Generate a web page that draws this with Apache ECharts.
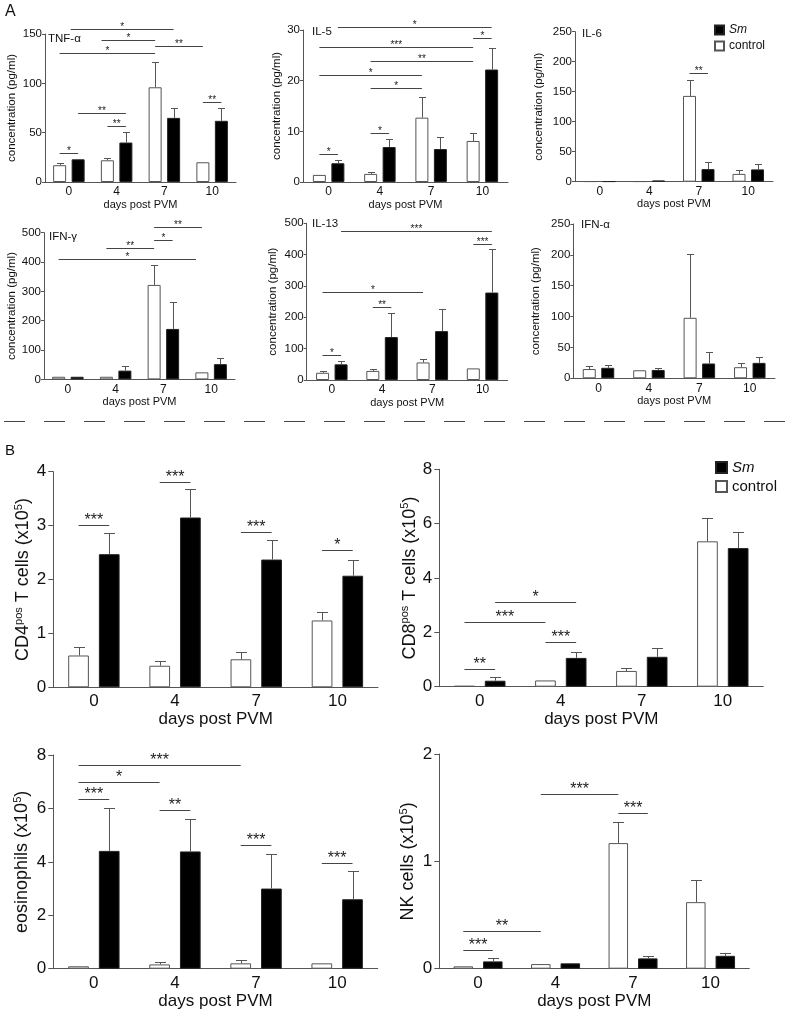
<!DOCTYPE html>
<html lang="en">
<head>
<meta charset="UTF-8">
<title>PVM cytokines and cells</title>
<script src="https://cdn.jsdelivr.net/npm/echarts@6/dist/echarts.min.js"></script>
<style>html,body{margin:0;padding:0;background:#fff;}</style>
</head>
<body>
<div id="chartmain" style="width:789px;height:1012px;"></div>
<script type="text/javascript">
var days = ['0', '4', '7', '10'];

// A - cytokines (pg/ml): mean and SEM, control vs Sm
var tnfCtrl = [17, 22, 96, 20],      tnfCtrlSem = [2, 2, 26, 1.5];
var tnfSm = [23, 40, 65, 62],        tnfSmSem = [1, 11, 10, 13];
var il5Ctrl = [1.4, 1.6, 12.7, 8.1], il5CtrlSem = [0.2, 0.4, 4.1, 1.6];
var il5Sm = [3.7, 6.9, 6.5, 22.2],   il5SmSem = [0.6, 1.5, 2.3, 4.3];
var il6Ctrl = [0.5, 0.5, 143, 13],   il6CtrlSem = [0, 0, 27, 6];
var il6Sm = [0.5, 2, 21, 20.5],      il6SmSem = [0, 0.5, 12, 9];
var ifngCtrl = [9, 9, 322, 24],      ifngCtrlSem = [1, 1, 68, 5];
var ifngSm = [9, 30, 172, 52],       ifngSmSem = [1, 16, 91, 20];
var il13Ctrl = [23, 29, 56, 37],     il13CtrlSem = [7, 5, 10, 3];
var il13Sm = [50, 137, 156, 279],    il13SmSem = [11, 76, 71, 138];
var ifnaCtrl = [15, 13, 98, 18],     ifnaCtrlSem = [5.5, 1, 103, 6];
var ifnaSm = [17, 13.5, 24, 25],     ifnaSmSem = [5, 3.5, 19, 9];

// B - cell counts (x10^5)
var cd4Ctrl = [0.59, 0.40, 0.52, 1.24], cd4CtrlSem = [0.16, 0.08, 0.14, 0.15];
var cd4Sm = [2.47, 3.15, 2.37, 2.07],   cd4SmSem = [0.39, 0.52, 0.36, 0.30];
var cd8Ctrl = [0.03, 0.23, 0.58, 5.35], cd8CtrlSem = [0.02, 0.07, 0.09, 0.85];
var cd8Sm = [0.22, 1.06, 1.10, 5.10],   cd8SmSem = [0.12, 0.23, 0.31, 0.60];
var eosCtrl = [0.09, 0.16, 0.20, 0.20], eosCtrlSem = [0, 0.09, 0.11, 0.04];
var eosSm = [4.41, 4.39, 3.00, 2.60],   eosSmSem = [1.59, 1.21, 1.30, 1.05];
var nkCtrl = [0.022, 0.043, 1.17, 0.62], nkCtrlSem = [0, 0.007, 0.20, 0.21];
var nkSm = [0.068, 0.05, 0.096, 0.12],   nkSmSem = [0.028, 0.006, 0.024, 0.023];

// significance brackets: [from bar, to bar, height, stars]
// bars: 0=c0 1=Sm0 2=c4 3=Sm4 4=c7 5=Sm7 6=c10 7=Sm10
var tnfSig = [[0.6, 5, 155, '*'], [1.8, 4, 144, '*'], [4, 6, 138, '**'], [0, 4, 131, '*'],
              [1, 3, 70, '**'], [2, 3, 57, '**'], [6, 7, 81, '**'], [0, 1, 29, '*']];
var il5Sig = [[1, 7, 30.6, '*'], [6, 7, 28.5, '*'], [0, 6, 26.7, '***'], [2, 6, 23.9, '**'],
              [0, 4, 21.1, '*'], [2, 4, 18.5, '*'], [2, 3, 9.6, '*'], [0, 1, 5.5, '*']];
var il6Sig = [[4, 5, 182, '**']];
var ifngSig = [[4, 6, 518, '**'], [4, 5, 475, '*'], [2, 4, 449, '**'], [0, 5.8, 409, '*']];
var il13Sig = [[1, 7, 477, '***'], [6, 7, 433, '***'], [0, 4, 282, '*'], [2, 3, 234, '**'], [0, 1, 80, '*']];
var ifnaSig = [];
var cd4Sig = [[0, 1, 3.02, '***'], [2, 3, 3.81, '***'], [4, 5, 2.89, '***'], [6, 7, 2.54, '*']];
var cd8Sig = [[1, 3, 3.13, '*'], [0, 2, 2.37, '***'], [2, 3, 1.66, '***'], [0, 1, 0.65, '**']];
var eosSig = [[0, 4, 7.63, '***'], [0, 2, 6.99, '*'], [0, 1, 6.34, '***'], [2, 3, 5.94, '**'],
              [4, 5, 4.63, '***'], [6, 7, 3.97, '***']];
var nkSig = [[2, 4, 1.63, '***'], [4, 5, 1.45, '***'], [0, 2, 0.354, '**'], [0, 1, 0.177, '***']];

var conc = 'concentration (pg/ml)';
var panels = [
    {t: 'TNF-α', tp: [48, 33], c: tnfCtrl, ce: tnfCtrlSem, s: tnfSm, se: tnfSmSem, sig: tnfSig, max: 150, step: 50, yn: conc, box: [45, 34, 191, 148], gap: 27},
    {t: 'IL-5', tp: [312, 26], c: il5Ctrl, ce: il5CtrlSem, s: il5Sm, se: il5SmSem, sig: il5Sig, max: 30, step: 10, yn: conc, box: [303, 30, 205, 152], gap: 20},
    {t: 'IL-6', tp: [582, 28], c: il6Ctrl, ce: il6CtrlSem, s: il6Sm, se: il6SmSem, sig: il6Sig, max: 250, step: 50, yn: conc, box: [575, 31.7, 198, 150], gap: 30},
    {t: 'IFN-γ', tp: [49, 231], c: ifngCtrl, ce: ifngCtrlSem, s: ifngSm, se: ifngSmSem, sig: ifngSig, max: 500, step: 100, yn: conc, box: [44, 232.7, 191, 146.7], gap: 26},
    {t: 'IL-13', tp: [312, 218], c: il13Ctrl, ce: il13CtrlSem, s: il13Sm, se: il13SmSem, sig: il13Sig, max: 500, step: 100, yn: conc, box: [306.7, 223.3, 201, 156.7], gap: 28},
    {t: 'IFN-α', tp: [581, 219], c: ifnaCtrl, ce: ifnaCtrlSem, s: ifnaSm, se: ifnaSmSem, sig: ifnaSig, max: 250, step: 50, yn: conc, box: [573.3, 224, 201.7, 154.3], gap: 31},
    {big: true, c: cd4Ctrl, ce: cd4CtrlSem, s: cd4Sm, se: cd4SmSem, sig: cd4Sig, max: 4, step: 1, yn: 'CD4{sup|pos} T cells (x10{sup|5})', box: [53.3, 471.7, 324.7, 215.6], gap: 20},
    {big: true, c: cd8Ctrl, ce: cd8CtrlSem, s: cd8Sm, se: cd8SmSem, sig: cd8Sig, max: 8, step: 2, yn: 'CD8{sup|pos} T cells (x10{sup|5})', box: [439.3, 469.3, 324, 217.4], gap: 19},
    {big: true, c: eosCtrl, ce: eosCtrlSem, s: eosSm, se: eosSmSem, sig: eosSig, max: 8, step: 2, yn: 'eosinophils (x10{sup|5})', box: [53.3, 755, 324.4, 213.7], gap: 21},
    {big: true, bw: 19.5, c: nkCtrl, ce: nkCtrlSem, s: nkSm, se: nkSmSem, sig: nkSig, max: 2, step: 1, yn: 'NK cells (x10{sup|5})', box: [439.3, 754, 310, 214.7], gap: 21}
];

var font = 'Liberation Sans';
var lineCol = '#555';

function barX(api, k, off) {
    var cx = function (b) {
        return api.coord([Math.floor(b / 2), 0])[0] + (b % 2 ? off : -off);
    };
    var lo = Math.floor(k), hi = Math.ceil(k);
    if (lo === hi) return cx(lo);
    return cx(lo) + (cx(hi) - cx(lo)) * (k - lo);
}

var grids = [], xAxes = [], yAxes = [], series = [], titles = [];

panels.forEach(function (p, i) {
    var big = !!p.big;
    var bw = p.bw || (big ? 20.7 : 13);
    var gapPx = big ? 10 : 5.5;
    var off = (bw + gapPx) / 2;
    var cap = big ? 5.5 : 3.5;
    var fs = big ? 17 : 12;

    grids.push({left: p.box[0], top: p.box[1], width: p.box[2], height: p.box[3], outerBoundsMode: 'none'});
    xAxes.push({
        type: 'category', gridIndex: i, data: days,
        axisTick: {show: false},
        axisLine: {lineStyle: {color: lineCol, width: 1}},
        axisLabel: {fontSize: fs, color: '#111', margin: big ? 6 : 4, fontFamily: font},
        name: 'days post PVM', nameLocation: 'middle', nameGap: big ? 21 : 17,
        nameTextStyle: {fontSize: big ? 17 : 11, color: '#111', fontFamily: font}
    });
    yAxes.push({
        type: 'value', gridIndex: i, min: 0, max: p.max, interval: p.step,
        splitLine: {show: false},
        axisLine: {show: true, lineStyle: {color: lineCol, width: 1}},
        axisTick: {show: true, length: big ? 5 : 3, lineStyle: {color: lineCol}},
        axisLabel: {fontSize: big ? 17 : 11.5, color: '#111', margin: big ? 7 : 3, fontFamily: font},
        name: p.yn, nameLocation: 'middle', nameRotate: 90, nameGap: p.gap,
        nameTextStyle: {
            fontSize: big ? 18 : 11.5, color: '#111', fontFamily: font,
            rich: {sup: {fontSize: 11, verticalAlign: 'top', fontFamily: font, color: '#111', padding: [0, 0, 9, 0]}}
        }
    });
    if (p.t) {
        titles.push({text: p.t, left: p.tp[0], top: p.tp[1], padding: 0,
            textStyle: {fontSize: 11.5, fontWeight: 'normal', color: '#111', fontFamily: font}});
    }

    series.push({
        type: 'bar', name: 'control', xAxisIndex: i, yAxisIndex: i, data: p.c,
        barWidth: bw, barGap: (gapPx / bw * 100) + '%',
        itemStyle: {color: '#fff', borderColor: lineCol, borderWidth: 1}
    });
    series.push({
        type: 'bar', name: 'Sm', xAxisIndex: i, yAxisIndex: i, data: p.s,
        barWidth: bw, barGap: (gapPx / bw * 100) + '%',
        itemStyle: {color: '#000', borderColor: '#222', borderWidth: 1}
    });

    // error bars (upper only)
    var errData = [];
    days.forEach(function (d, j) {
        errData.push([j, p.c[j], p.c[j] + p.ce[j], -1]);
        errData.push([j, p.s[j], p.s[j] + p.se[j], 1]);
    });
    series.push({
        type: 'custom', xAxisIndex: i, yAxisIndex: i, silent: true, z: 3,
        data: errData,
        renderItem: function (params, api) {
            var j = api.value(0), side = api.value(3);
            var b = api.coord([j, api.value(1)]);
            var t = api.coord([j, api.value(2)]);
            var x = Math.round(b[0] + side * off) + 0.5;
            var yt = Math.round(t[1]) + 0.5;
            if (b[1] - yt < 1) return null;
            var st = {stroke: lineCol, lineWidth: 1};
            return {type: 'group', children: [
                {type: 'line', shape: {x1: x, y1: b[1], x2: x, y2: yt}, style: st},
                {type: 'line', shape: {x1: x - cap, y1: yt, x2: x + cap, y2: yt}, style: st}
            ]};
        }
    });

    // significance brackets
    if (p.sig.length) {
        series.push({
            type: 'custom', xAxisIndex: i, yAxisIndex: i, silent: true, z: 4,
            data: p.sig.map(function (s) { return [0, s[2]]; }),
            renderItem: function (params, api) {
                var s = p.sig[params.dataIndex];
                var x1 = barX(api, s[0], off), x2 = barX(api, s[1], off);
                var y = Math.round(api.coord([0, s[2]])[1]) + 0.5;
                return {type: 'group', children: [
                    {type: 'line', shape: {x1: x1, y1: y, x2: x2, y2: y}, style: {stroke: '#444', lineWidth: 1}},
                    {type: 'text', style: {
                        text: s[3], x: (x1 + x2) / 2, y: y - (big ? 4.5 : 2.5),
                        align: 'center', verticalAlign: 'middle',
                        fontSize: big ? 16 : 10, fontFamily: font, fill: '#222'
                    }}
                ]};
            }
        });
    }
});

titles.push({text: 'A', left: 5, top: 4, padding: 0, textStyle: {fontSize: 16, fontWeight: 'normal', color: '#111', fontFamily: font}});
titles.push({text: 'B', left: 5, top: 443, padding: 0, textStyle: {fontSize: 15, fontWeight: 'normal', color: '#111', fontFamily: font}});

function legendAt(left, top, size, fsz, gap) {
    return {
        data: ['Sm', 'control'], orient: 'vertical', left: left, top: top, padding: 0,
        icon: 'rect', itemWidth: size, itemHeight: size, itemGap: gap, selectedMode: false,
        formatter: function (n) { return n === 'Sm' ? '{i|Sm}' : n; },
        textStyle: {fontSize: fsz, color: '#111', fontFamily: font,
            rich: {i: {fontSize: fsz, fontStyle: 'italic', color: '#111', fontFamily: font}}}
    };
}

var option = {
    animation: false,
    backgroundColor: '#fff',
    textStyle: {fontFamily: font},
    title: titles,
    legend: [legendAt(714, 24, 9, 12, 4), legendAt(715, 460, 11, 15, 4)],
    grid: grids,
    xAxis: xAxes,
    yAxis: yAxes,
    series: series,
    graphic: [{
        type: 'line', silent: true,
        shape: {x1: 4, y1: 421.5, x2: 789, y2: 421.5},
        style: {stroke: '#444', lineWidth: 1, lineDash: [21, 19]}
    }]
};

var myChart = echarts.init(document.getElementById('chartmain'));
myChart.setOption(option);
</script>
</body>
</html>
